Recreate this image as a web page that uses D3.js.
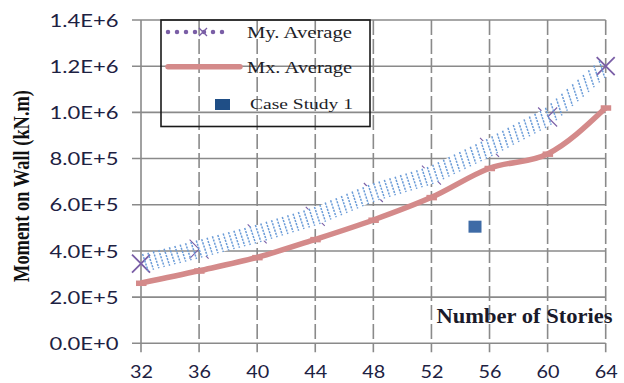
<!DOCTYPE html>
<html>
<head>
<meta charset="utf-8">
<script src="https://cdn.jsdelivr.net/npm/d3@7/dist/d3.min.js"></script>
<style>
html,body{margin:0;padding:0;background:#fff;}
svg{display:block;}
</style>
</head>
<body>
<svg id="chart" width="624" height="383"></svg>
<script>
// ---- data ----
const stories = [32, 36, 40, 44, 48, 52, 56, 60, 64];
const myAverage = [345000, 408000, 474000, 550000, 653000, 728000, 848000, 980000, 1200000];
const mxAverage = [261000, 314000, 372000, 450000, 534000, 632000, 758000, 820000, 1020000];
const caseStudyStories = [55];
const caseStudyMoment = [505000];
const yTickValues = [0, 200000, 400000, 600000, 800000, 1000000, 1200000, 1400000];
const yTickLabels = ["0.0E+0", "2.0E+5", "4.0E+5", "6.0E+5", "8.0E+5", "1.0E+6", "1.2E+6", "1.4E+6"];
const xTickValues = [32, 36, 40, 44, 48, 52, 56, 60, 64];
const legendLabels = ["My. Average", "Mx. Average", "Case Study 1"];
const xTitle = "Number of Stories";
const yTitle = "Moment  on Wall (kN.m)";

(function () {
// ---- layout ----
const svg = d3.select("#chart");
const pLeft = 141, pRight = 605.7, pTop = 20, pBottom = 343.3;
const x = d3.scaleLinear().domain([32, 64]).range([pLeft, pRight]);
const y = d3.scaleLinear().domain([0, 1400000]).range([pBottom, pTop]);
const gridColor = "#8a8a8a";

// horizontal grid lines (with outer tick)
svg.append("g").selectAll("line").data(yTickValues).join("line")
  .attr("x1", pLeft - 9).attr("x2", pRight)
  .attr("y1", d => y(d)).attr("y2", d => y(d))
  .attr("stroke", gridColor).attr("stroke-width", 1.6);

// vertical grid lines (dashed) + ticks
svg.append("g").selectAll("line").data(xTickValues.filter(d => d !== 32)).join("line")
  .attr("x1", d => x(d)).attr("x2", d => x(d))
  .attr("y1", pTop).attr("y2", pBottom + 9)
  .attr("stroke", gridColor).attr("stroke-width", 1.6)
  .attr("stroke-dasharray", "15,4");
// left axis line
svg.append("line")
  .attr("x1", x(32)).attr("x2", x(32)).attr("y1", pTop).attr("y2", pBottom + 9)
  .attr("stroke", gridColor).attr("stroke-width", 1.6);

// y axis labels via d3 axis
const yAxis = d3.axisLeft(y).tickValues(yTickValues)
  .tickFormat((d, i) => yTickLabels[i]).tickSize(0).tickPadding(0);
const gy = svg.append("g").attr("transform", `translate(118.5,0)`).call(yAxis);
gy.select(".domain").remove();
gy.selectAll("text")
  .attr("font-family", "Lato, 'Open Sans', sans-serif")
  .attr("font-size", 17).attr("fill", "#1d2142")
  .attr("dy", "0.36em")
  .attr("textLength", 69).attr("lengthAdjust", "spacingAndGlyphs");

// x axis labels via d3 axis
const xAxis = d3.axisBottom(x).tickValues(xTickValues).tickFormat(d3.format("d"))
  .tickSize(0).tickPadding(0);
const gx = svg.append("g").attr("transform", `translate(0,365)`).call(xAxis);
gx.select(".domain").remove();
gx.selectAll("text")
  .attr("font-family", "Lato, 'Open Sans', sans-serif")
  .attr("font-size", 18).attr("fill", "#1d2142")
  .attr("dy", "0.72em")
  .attr("textLength", 23).attr("lengthAdjust", "spacingAndGlyphs");

// ---- My. Average: X markers, white backing, hatched band ----
const purple = "#7a5ea6";
function xMark(g, cx, cy, h, w) {
  g.append("path")
    .attr("d", `M${cx - h},${cy - h}L${cx + h},${cy + h}M${cx - h},${cy + h}L${cx + h},${cy - h}`)
    .attr("stroke", purple).attr("stroke-width", w).attr("fill", "none");
}
const gMy = svg.append("g");
stories.forEach((s, i) => {
  const end = (i === 0 || i === stories.length - 1);
  xMark(gMy, x(s), y(myAverage[i]), end ? 9 : 9.5, end ? 1.8 : 1.1);
});

const myLine = d3.line().x(d => x(d[0])).y(d => y(d[1]));
svg.append("path")
  .datum(stories.map((s, i) => [s, myAverage[i]]).slice(1, -1))
  .attr("d", myLine).attr("fill", "none")
  .attr("stroke", "#fff").attr("stroke-width", 17).attr("stroke-linejoin", "round");

const myInterp = d3.scaleLinear().domain(stories).range(myAverage);
const hatchPos = d3.range(32.3, 63.8, 0.37);
svg.append("g").selectAll("line").data(hatchPos).join("line")
  .attr("x1", d => x(d) - 2.8).attr("x2", d => x(d) + 2.8)
  .attr("y1", d => y(myInterp(d)) - 8.5).attr("y2", d => y(myInterp(d)) + 8.5)
  .attr("stroke", "#6b9cd8").attr("stroke-width", 1.5)
  .attr("stroke-dasharray", "2.2,1.1");

// ---- Mx. Average line ----
const pink = "#d48a8a";
const line = d3.line().x(d => x(d[0])).y(d => y(d[1])).curve(d3.curveMonotoneX);
svg.append("path")
  .datum(stories.map((s, i) => [s, mxAverage[i]]))
  .attr("d", line).attr("fill", "none")
  .attr("stroke", pink).attr("stroke-width", 5.5);
svg.append("g").selectAll("rect").data(stories).join("rect")
  .attr("x", d => x(d) - 5).attr("width", 10.5)
  .attr("y", (d, i) => y(mxAverage[i]) - 2.5).attr("height", 5.5)
  .attr("fill", pink);

// ---- Case study ----
svg.append("g").selectAll("rect").data(caseStudyStories).join("rect")
  .attr("x", d => x(d) - 6.5).attr("width", 13)
  .attr("y", (d, i) => y(caseStudyMoment[i]) - 6).attr("height", 12)
  .attr("fill", "#3e6ba6");

// ---- legend ----
const lg = svg.append("g");
lg.append("rect").attr("x", 161).attr("y", 20).attr("width", 209).attr("height", 106.5)
  .attr("fill", "none").attr("stroke", "#1a1a1a").attr("stroke-width", 1.6);
lg.append("line").attr("x1", 168).attr("x2", 231).attr("y1", 32).attr("y2", 32)
  .attr("stroke", purple).attr("stroke-width", 4.5).attr("stroke-linecap", "round")
  .attr("stroke-dasharray", "0,9");
xMark(lg, 203, 32, 4, 1.3);
lg.append("line").attr("x1", 168).attr("x2", 240).attr("y1", 66.7).attr("y2", 66.7)
  .attr("stroke", pink).attr("stroke-width", 5.5).attr("stroke-linecap", "round");
lg.append("rect").attr("x", 215).attr("y", 99).attr("width", 15).attr("height", 11)
  .attr("fill", "#1f4e86");
const legY = [38, 73, 109], legX = [247, 247, 250], legLen = [105, 105, 103], legSize = [16, 16, 15];
lg.selectAll("text").data(legendLabels).join("text")
  .attr("x", (d, i) => legX[i]).attr("y", (d, i) => legY[i])
  .attr("font-family", "'Liberation Serif', 'Times New Roman', serif")
  .attr("font-size", (d, i) => legSize[i]).attr("fill", "#1e1e28")
  .attr("textLength", (d, i) => legLen[i]).attr("lengthAdjust", "spacingAndGlyphs")
  .text(d => d);

// ---- axis titles ----
svg.append("text")
  .attr("x", 436.5).attr("y", 323)
  .attr("font-family", "'Liberation Serif', 'Times New Roman', serif")
  .attr("font-weight", "bold").attr("font-size", 21).attr("fill", "#1a1a2a")
  .attr("textLength", 176).attr("lengthAdjust", "spacingAndGlyphs")
  .text(xTitle);
svg.append("text")
  .attr("transform", "translate(29,186) scale(1.35,1) rotate(-90)")
  .attr("text-anchor", "middle")
  .attr("font-family", "'Liberation Serif', 'Times New Roman', serif")
  .attr("font-weight", "bold").attr("font-size", 17).attr("fill", "#111")
  .attr("textLength", 192).attr("lengthAdjust", "spacingAndGlyphs")
  .text(yTitle);
})();
</script>
</body>
</html>
